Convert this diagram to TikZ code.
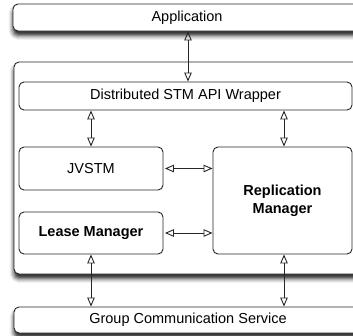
\documentclass[tikz,border=0pt]{standalone}
\usepackage{fontspec}
\setmainfont{Liberation Sans}
\usetikzlibrary{arrows.meta,shadows.blur}
\begin{document}
\begin{tikzpicture}[x=1pt,y=-1pt,
  box/.style={draw=black!85, line width=0.9pt, rounded corners=5pt, fill=white, inner sep=0pt,
    font=\fontsize{14.5}{18}\selectfont, align=center},
  shbox/.style={box, blur shadow={shadow xshift=0pt, shadow yshift=-4.5pt, shadow blur radius=4.5pt, shadow opacity=90}},
  dbl/.style={{Triangle[open,length=9pt,width=7.5pt]}-{Triangle[open,length=9pt,width=7.5pt]}, line width=0.9pt, draw=black!85}]
\useasboundingbox (0,0) rectangle (353,335);
\clip (0,0) rectangle (353,335);
\node[shbox, minimum width=348pt, minimum height=27pt] (app) at (187,17.5) {Application};
\node[shbox, minimum width=348pt, minimum height=212pt] (outer) at (188,168) {};
\node[shbox, minimum width=348pt, minimum height=26pt] (gcs) at (188,320) {Group Communication Service};
\node[box, minimum width=333pt, minimum height=28pt] (wrap) at (185.5,96) {Distributed STM API Wrapper};
\node[box, minimum width=144pt, minimum height=43pt] (jvstm) at (91,168.5) {JVSTM};
\node[box, minimum width=144pt, minimum height=42pt, font=\fontsize{14.5}{18}\selectfont\bfseries] (lease) at (91,233) {Lease Manager};
\node[box, minimum width=139pt, minimum height=107pt, font=\fontsize{14.5}{18}\selectfont\bfseries] (rm) at (282.5,200.5) {Replication\\Manager};
\draw[dbl] (app.south -| 188,0) -- (wrap.north -| 188,0);
\draw[dbl] (wrap.south -| jvstm.north) -- (jvstm.north);
\draw[dbl] (wrap.south -| 284,0) -- (rm.north -| 284,0);
\draw[dbl, shorten <=1.5pt] (jvstm.east) -- (jvstm.east -| rm.west);
\draw[dbl, shorten <=1.5pt] (lease.east) -- (lease.east -| rm.west);
\draw[dbl] (lease.south) -- (lease.south |- gcs.north);
\draw[dbl] (rm.south -| 284,0) -- (gcs.north -| 284,0);
\end{tikzpicture}
\end{document}
